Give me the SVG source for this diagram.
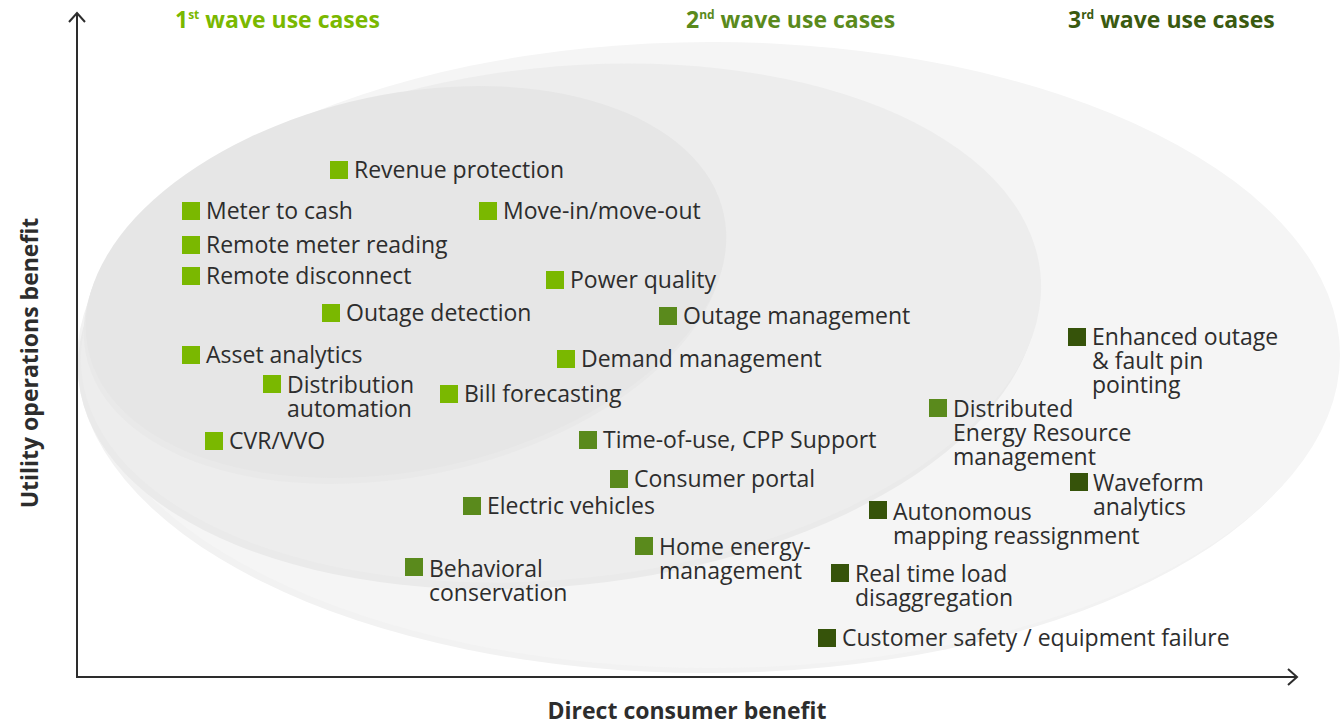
<svg xmlns="http://www.w3.org/2000/svg" width="1341" height="725" viewBox="0 0 1341 725">
  <style>
    .lbl { font-family: "Open Sans", "Liberation Sans", sans-serif; font-size: 23px; fill: #2d2d2d; }
    .hdr { font-family: "Open Sans", "Liberation Sans", sans-serif; font-size: 23px; font-weight: bold; }
    .axl { font-family: "Open Sans", "Liberation Sans", sans-serif; font-size: 23px; font-weight: bold; fill: #2d2d2d; }
    .w1 { fill: #7ab800; }
    .w2 { fill: #5a8a1c; }
    .w3 { fill: #36530a; }
    .axis { stroke: #2d2d2d; stroke-width: 2; fill: none; }
  </style>

  <rect width="1341" height="725" fill="#ffffff"/>

  <!-- nested wave areas, each with a soft lower rim -->
  <g id="areas">
    <ellipse cx="706" cy="360" rx="629" ry="313" fill="#f2f2f2"/>
    <ellipse cx="711" cy="355" rx="629" ry="313" fill="#f5f5f5"/>
    <ellipse cx="558" cy="330" rx="482" ry="256" transform="rotate(-6 558 330)" fill="#eaeaea"/>
    <ellipse cx="561" cy="323" rx="482" ry="256" transform="rotate(-6 561 323)" fill="#ededed"/>
    <ellipse cx="404" cy="288" rx="325" ry="188" transform="rotate(-12 404 288)" fill="#e9e9e9"/>
    <ellipse cx="406" cy="282" rx="325" ry="188" transform="rotate(-12 406 282)" fill="#e6e6e6"/>
  </g>

  <!-- axes -->
  <g id="connectors">
    <path class="axis" d="M77 677 V13"/>
    <path class="axis" d="M69 22 L77 13 L85 22"/>
    <path class="axis" d="M76 677 H1296"/>
    <path class="axis" d="M1288 669 L1297 677 L1288 685"/>
  </g>

  <!-- headings -->
  <g id="headings">
    <text class="hdr" x="175" y="28" fill="#7ab800">1<tspan font-size="12" dy="-9">st</tspan><tspan dy="9"> wave use cases</tspan></text>
    <text class="hdr" x="686" y="28" fill="#5a8a1c">2<tspan font-size="12" dy="-9">nd</tspan><tspan dy="9"> wave use cases</tspan></text>
    <text class="hdr" x="1068" y="28" fill="#3a5a10">3<tspan font-size="12" dy="-9">rd</tspan><tspan dy="9"> wave use cases</tspan></text>
  </g>

  <!-- axis titles -->
  <text class="axl" x="687" y="719" text-anchor="middle">Direct consumer benefit</text>
  <text class="axl" transform="translate(38 363) rotate(-90)" text-anchor="middle">Utility operations benefit</text>

  <!-- 1st wave -->
  <g id="n-revenue-protection"><rect class="w1" x="330" y="161" width="18" height="18"/><text class="lbl" x="354" y="178">Revenue protection</text></g>
  <g id="n-meter-to-cash"><rect class="w1" x="182" y="202" width="18" height="18"/><text class="lbl" x="206" y="219">Meter to cash</text></g>
  <g id="n-move-in-out"><rect class="w1" x="479" y="202" width="18" height="18"/><text class="lbl" x="503" y="219">Move-in/move-out</text></g>
  <g id="n-remote-meter-reading"><rect class="w1" x="182" y="236" width="18" height="18"/><text class="lbl" x="206" y="253">Remote meter reading</text></g>
  <g id="n-remote-disconnect"><rect class="w1" x="182" y="267" width="18" height="18"/><text class="lbl" x="206" y="284">Remote disconnect</text></g>
  <g id="n-power-quality"><rect class="w1" x="546" y="271" width="18" height="18"/><text class="lbl" x="570" y="288">Power quality</text></g>
  <g id="n-outage-detection"><rect class="w1" x="322" y="304" width="18" height="18"/><text class="lbl" x="346" y="321">Outage detection</text></g>
  <g id="n-asset-analytics"><rect class="w1" x="182" y="346" width="18" height="18"/><text class="lbl" x="206" y="363">Asset analytics</text></g>
  <g id="n-demand-management"><rect class="w1" x="557" y="350" width="18" height="18"/><text class="lbl" x="581" y="367">Demand management</text></g>
  <g id="n-distribution-automation"><rect class="w1" x="263" y="375" width="18" height="18"/><text class="lbl" x="287" y="393">Distribution<tspan x="287" dy="24">automation</tspan></text></g>
  <g id="n-bill-forecasting"><rect class="w1" x="440" y="385" width="18" height="18"/><text class="lbl" x="464" y="402">Bill forecasting</text></g>
  <g id="n-cvr-vvo"><rect class="w1" x="205" y="432" width="18" height="18"/><text class="lbl" x="229" y="449">CVR/VVO</text></g>

  <!-- 2nd wave -->
  <g id="n-outage-management"><rect class="w2" x="659" y="307" width="18" height="18"/><text class="lbl" x="683" y="324">Outage management</text></g>
  <g id="n-der-management"><rect class="w2" x="929" y="399" width="18" height="18"/><text class="lbl" x="953" y="417">Distributed<tspan x="953" dy="24">Energy Resource</tspan><tspan x="953" dy="24">management</tspan></text></g>
  <g id="n-time-of-use"><rect class="w2" x="579" y="431" width="18" height="18"/><text class="lbl" x="603" y="448">Time-of-use, CPP Support</text></g>
  <g id="n-consumer-portal"><rect class="w2" x="610" y="470" width="18" height="18"/><text class="lbl" x="634" y="487">Consumer portal</text></g>
  <g id="n-electric-vehicles"><rect class="w2" x="463" y="497" width="18" height="18"/><text class="lbl" x="487" y="514">Electric vehicles</text></g>
  <g id="n-home-energy"><rect class="w2" x="635" y="537" width="18" height="18"/><text class="lbl" x="659" y="555">Home energy-<tspan x="659" dy="24">management</tspan></text></g>
  <g id="n-behavioral-conservation"><rect class="w2" x="405" y="558" width="18" height="18"/><text class="lbl" x="429" y="577">Behavioral<tspan x="429" dy="24">conservation</tspan></text></g>

  <!-- 3rd wave -->
  <g id="n-enhanced-outage"><rect class="w3" x="1068" y="328" width="18" height="18"/><text class="lbl" x="1092" y="345">Enhanced outage<tspan x="1092" dy="24">&amp; fault pin</tspan><tspan x="1092" dy="24">pointing</tspan></text></g>
  <g id="n-waveform-analytics"><rect class="w3" x="1070" y="473" width="18" height="18"/><text class="lbl" x="1093" y="491">Waveform<tspan x="1093" dy="24">analytics</tspan></text></g>
  <g id="n-autonomous-mapping"><rect class="w3" x="869" y="501" width="18" height="18"/><text class="lbl" x="893" y="520">Autonomous<tspan x="893" dy="24">mapping reassignment</tspan></text></g>
  <g id="n-real-time-load"><rect class="w3" x="831" y="564" width="18" height="18"/><text class="lbl" x="855" y="582">Real time load<tspan x="855" dy="24">disaggregation</tspan></text></g>
  <g id="n-customer-safety"><rect class="w3" x="818" y="629" width="18" height="18"/><text class="lbl" x="842" y="646">Customer safety / equipment failure</text></g>
</svg>
